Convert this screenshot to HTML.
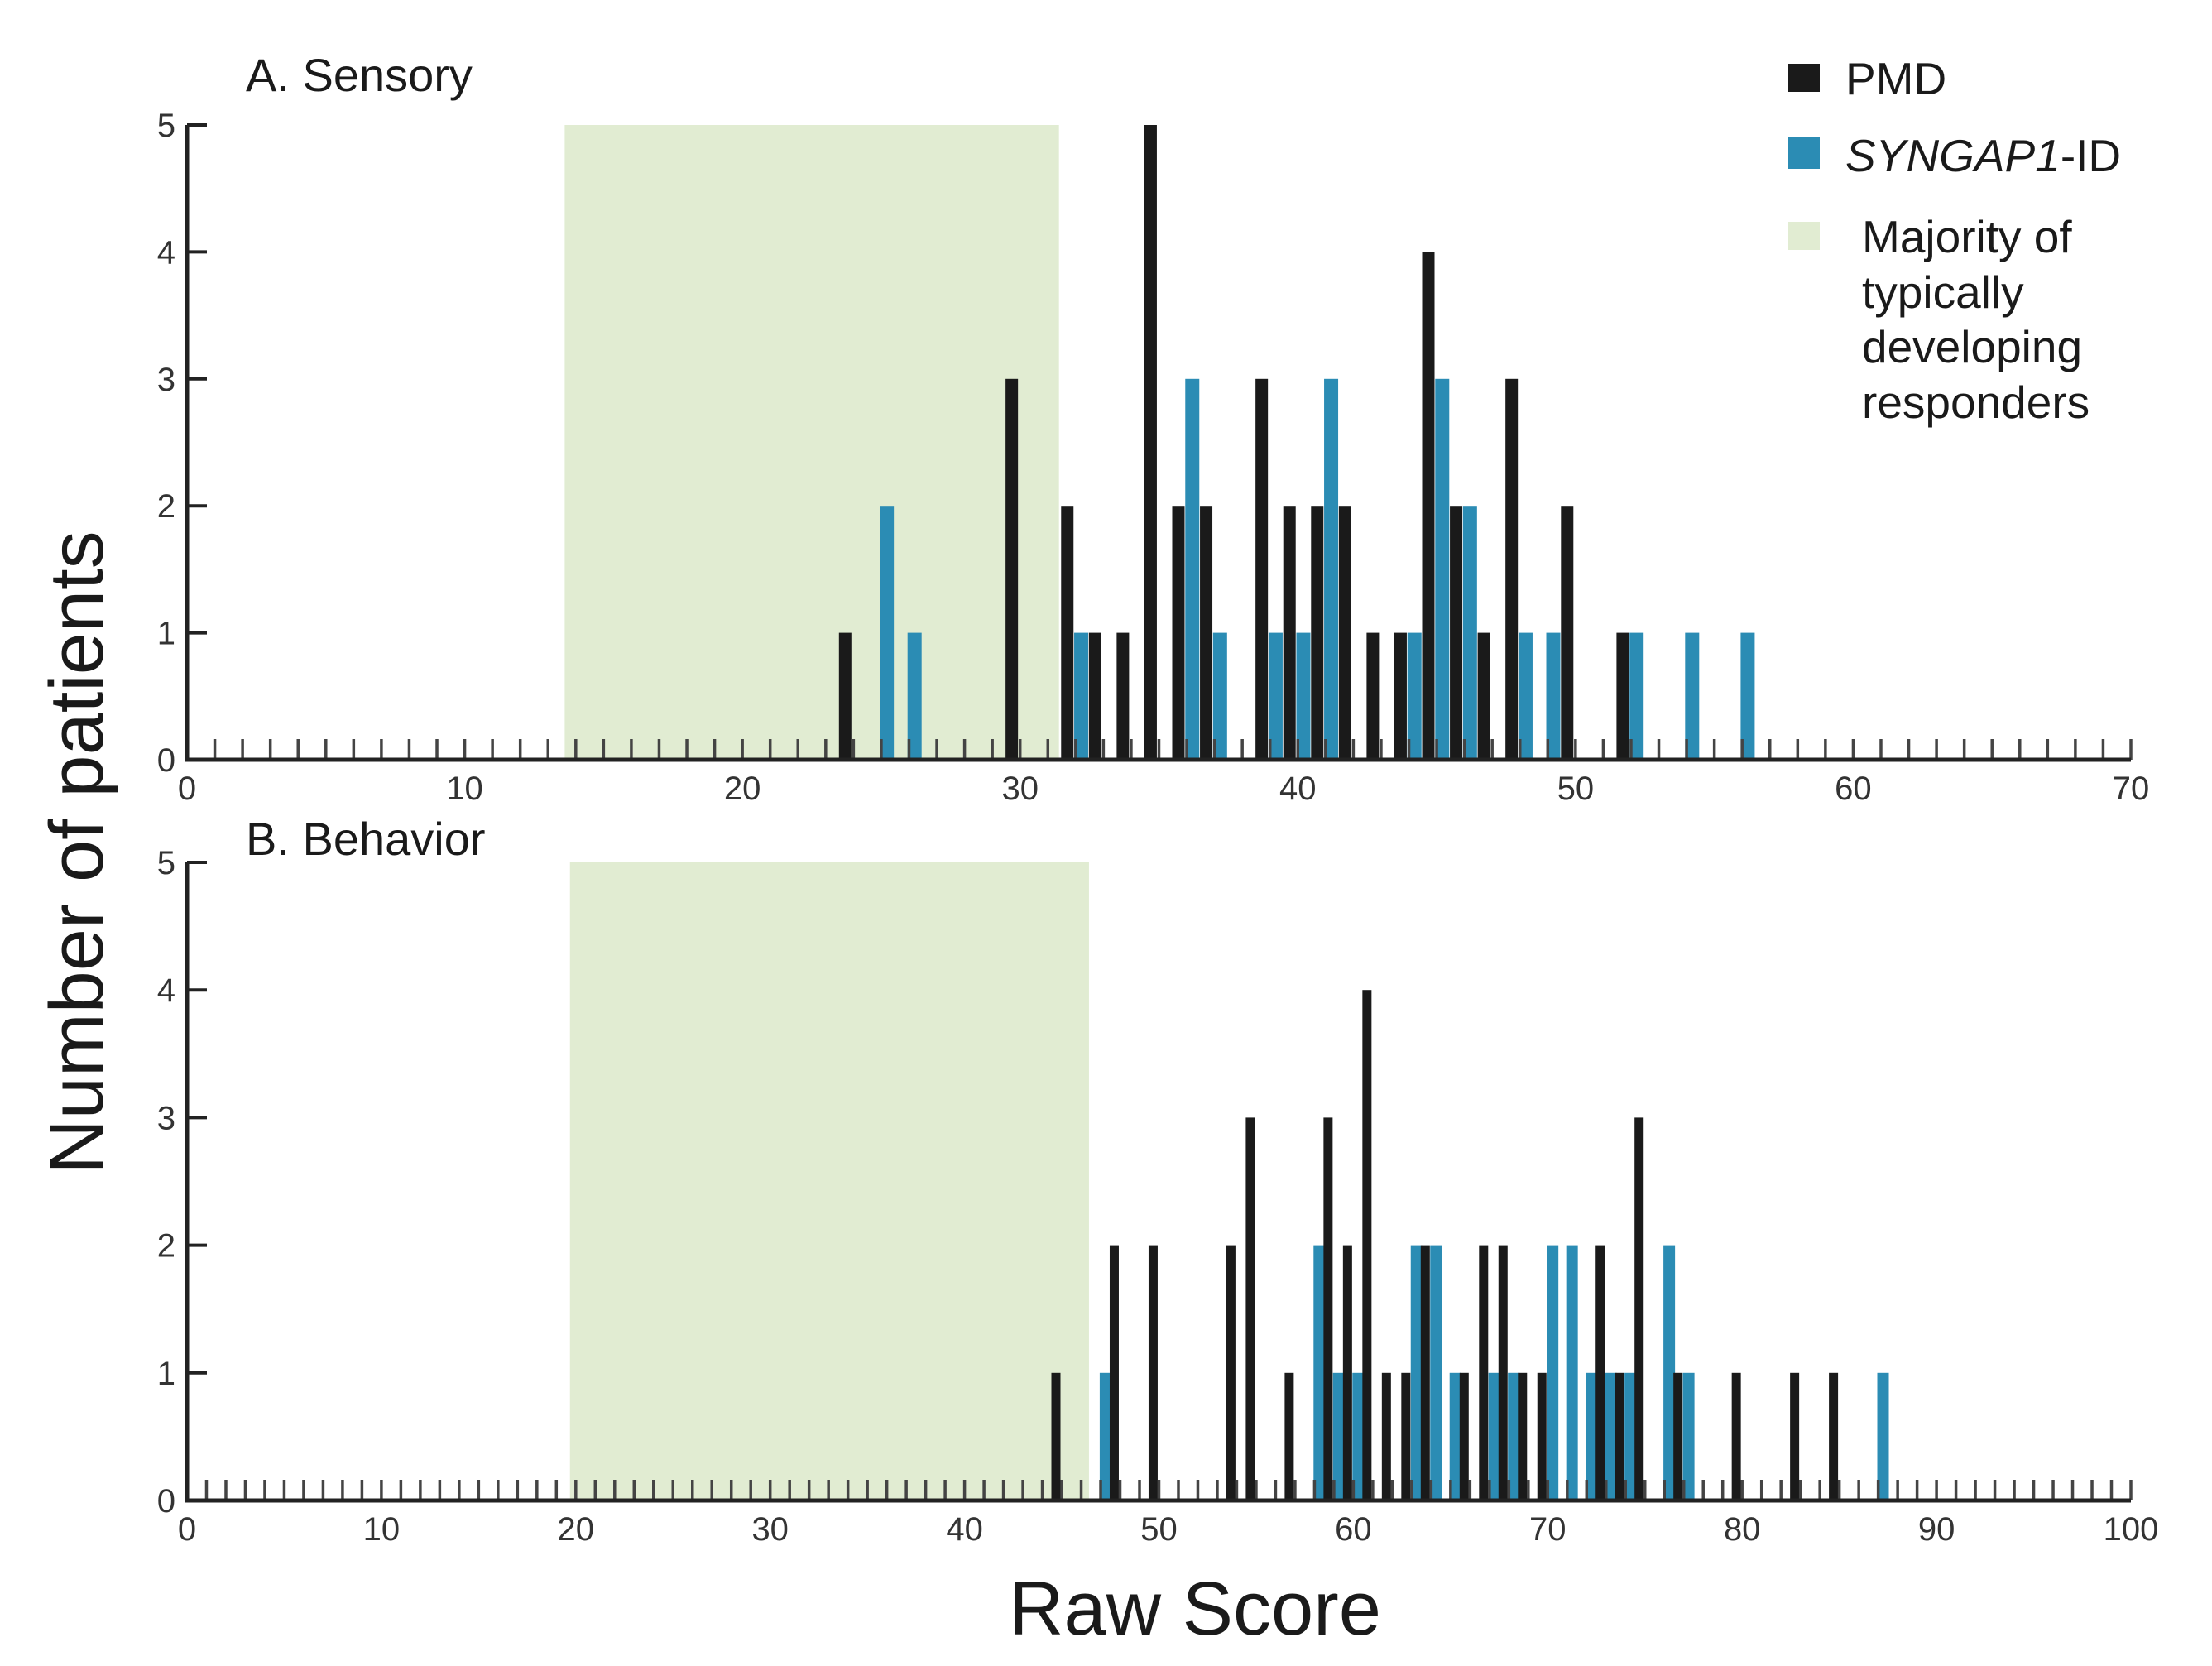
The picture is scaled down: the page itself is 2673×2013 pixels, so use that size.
<!DOCTYPE html>
<html><head><meta charset="utf-8"><style>
html,body{margin:0;padding:0;background:#fff;}
svg{display:block;font-family:"Liberation Sans",Arial,sans-serif;}
</style></head><body>
<svg id="chart" width="2673" height="2013" viewBox="0 0 2673 2013" xmlns="http://www.w3.org/2000/svg">
<g id="panelA"></g>
<g id="panelB"></g>
<text x="0" y="0" transform="translate(124,1030) rotate(-90)" text-anchor="middle" font-size="92" fill="#1a1a1a">Number of patients</text>
<text x="1444" y="1975" text-anchor="middle" font-size="92" fill="#1a1a1a">Raw Score</text>
<g>
<rect x="2161" y="77" width="38" height="34" fill="#1a1a1a"/>
<text x="2230" y="114" font-size="55" fill="#1a1a1a">PMD</text>
<rect x="2161" y="166" width="38" height="38" fill="#2b8cb4"/>
<text x="2230" y="207" font-size="55" fill="#1a1a1a"><tspan font-style="italic">SYNGAP1</tspan>-ID</text>
<rect x="2161" y="268" width="38" height="34" fill="#e1ecd2"/>
<text font-size="55" fill="#1a1a1a"><tspan x="2250" y="305">Majority of</tspan><tspan x="2250" y="372">typically</tspan><tspan x="2250" y="438">developing</tspan><tspan x="2250" y="505">responders</tspan></text>
</g>
</svg>
<script>
// Panel A (Sensory) data
const aPmdScores = [24,30,32,33,34,35,36,37,39,40,41,42,43,44,45,46,47,48,50,52];
const aPmdCounts = [1,3,2,1,1,5,2,2,3,2,2,2,1,1,4,2,1,3,2,1];
const aSynScores = [25,26,32,36,37,39,40,41,44,45,46,48,49,52,54,56];
const aSynCounts = [2,1,1,3,1,1,1,3,1,3,2,1,1,1,1,1];
const aTypicalRange = [13.6,31.4];
const aXTicks = [0,10,20,30,40,50,60,70];
// Panel B (Behavior) data
const bPmdScores = [44,47,49,53,54,56,58,59,60,61,62,63,65,66,67,68,69,72,73,74,76,79,82,84];
const bPmdCounts = [1,2,2,2,3,1,3,2,4,1,1,2,1,2,2,1,1,2,1,3,1,1,1,1];
const bSynScores = [47,58,59,60,63,64,65,67,68,70,71,72,73,74,76,77,87];
const bSynCounts = [1,2,1,1,2,2,1,1,1,2,2,1,1,1,2,1,1];
const bTypicalRange = [19.7,46.4];
const bXTicks = [0,10,20,30,40,50,60,70,80,90,100];
const yTicks = [0,1,2,3,4,5];

const NS = "http://www.w3.org/2000/svg";
function mk(tag, attrs, parent){
  const e = document.createElementNS(NS, tag);
  for (const k in attrs) e.setAttribute(k, attrs[k]);
  parent.appendChild(e);
  return e;
}
function drawPanel(g, cfg){
  const x = v => cfg.x0 + (v - cfg.xmin) / (cfg.xmax - cfg.xmin) * (cfg.x1 - cfg.x0);
  const y = v => cfg.y0 - v / 5 * (cfg.y0 - cfg.yTop);
  const r = mk('rect', {x: x(cfg.range[0]), y: y(5), width: x(cfg.range[1]) - x(cfg.range[0]), height: y(0) - y(5), fill: '#e1ecd2'}, g);
  
  
  cfg.synS.forEach((s, i) => {
    const c = x(s + cfg.synOff);
    const b = mk('rect', {x: c - cfg.synW / 2, y: y(cfg.synC[i]), width: cfg.synW, height: y(0) - y(cfg.synC[i]), fill: '#2b8cb4'}, g);
    
    
  });
  cfg.pmdS.forEach((s, i) => {
    const c = x(s + cfg.pmdOff);
    const b = mk('rect', {x: c - cfg.pmdW / 2, y: y(cfg.pmdC[i]), width: cfg.pmdW, height: y(0) - y(cfg.pmdC[i]), fill: '#1a1a1a'}, g);
    
    
  });
  for (let v = cfg.xmin + 1; v <= cfg.xmax; v++) {
    const t = mk('line', {x1: x(v), x2: x(v), y1: y(0), y2: y(0) - 25, stroke: '#444', 'stroke-width': 3.5}, g);
    
    
  }
  const xa = mk('line', {x1: x(cfg.xmin) - 2, x2: x(cfg.xmax), y1: y(0), y2: y(0), stroke: '#222', 'stroke-width': 5}, g);
  
  
  const ya = mk('line', {x1: x(cfg.xmin), x2: x(cfg.xmin), y1: y(0) + 2, y2: y(5), stroke: '#222', 'stroke-width': 5}, g);
  
  
  yTicks.forEach(v => {
    const t = mk('line', {x1: x(cfg.xmin), x2: x(cfg.xmin) + 24, y1: y(v), y2: y(v), stroke: '#222', 'stroke-width': 4}, g);
    
    
    const l = mk('text', {x: x(cfg.xmin) - 14, y: y(v) + 14, 'text-anchor': 'end', 'font-size': 40, fill: '#333'}, g);
    l.textContent = v;
    
    
  });
  cfg.ticks.forEach(v => {
    const l = mk('text', {x: x(v), y: y(0) + 48, 'text-anchor': 'middle', 'font-size': 40, fill: '#333'}, g);
    l.textContent = v;
    
    
  });
  const tt = mk('text', {x: 297, y: cfg.titleY, 'font-size': 56, fill: '#1a1a1a'}, g);
  tt.textContent = cfg.title;
  
  
}
drawPanel(document.getElementById('panelA'), {
  x0: 226, x1: 2575, xmin: 0, xmax: 70, y0: 918, yTop: 151,
  range: aTypicalRange, pmdS: aPmdScores, pmdC: aPmdCounts, synS: aSynScores, synC: aSynCounts,
  pmdOff: -0.3, synOff: 0.2, pmdW: 15, synW: 17, ticks: aXTicks, title: 'A. Sensory', titleY: 110
});
drawPanel(document.getElementById('panelB'), {
  x0: 226, x1: 2575, xmin: 0, xmax: 100, y0: 1813, yTop: 1042,
  range: bTypicalRange, pmdS: bPmdScores, pmdC: bPmdCounts, synS: bSynScores, synC: bSynCounts,
  pmdOff: 0.7, synOff: 0.25, pmdW: 11, synW: 14, ticks: bXTicks, title: 'B. Behavior', titleY: 1033
});
</script>
</body></html>
